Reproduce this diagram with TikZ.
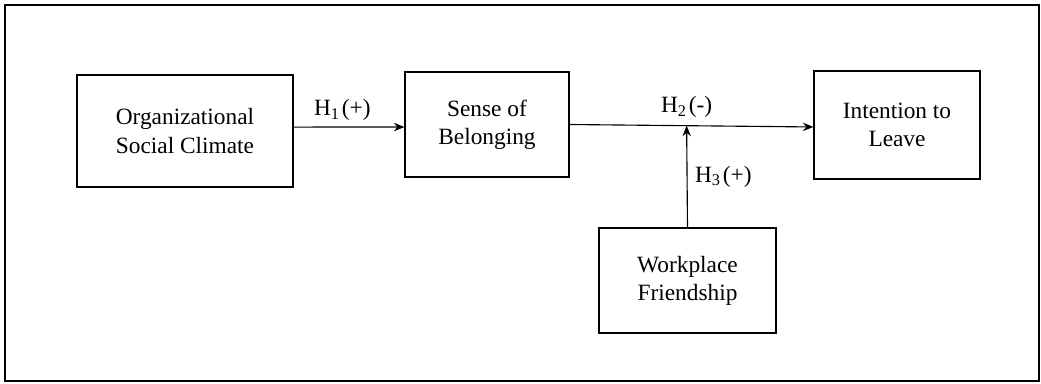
\documentclass[tikz,border=0pt]{standalone}
\usepackage{fontspec}
\setmainfont{Liberation Serif}
\usepackage{tikz}
\usetikzlibrary{arrows.meta}
\newcommand\hyp[2]{H\textsubscript{#1}\hspace{1.5pt}(#2)}

\begin{document}
\begin{tikzpicture}[x=0.025cm,y=-0.025cm,
  font=\fontsize{16.6}{20}\selectfont,
  box/.style={draw,line width=0.8pt,align=center,inner sep=0pt},
  arr/.style={line width=0.8pt,-{Stealth[length=7.5pt,width=6pt,inset=2.5pt]}}]
\useasboundingbox (0,0) rectangle (1041,383);
\draw[line width=2pt] (5,5) rectangle (1039,381);
\node[box,minimum width=216*0.025cm,minimum height=112*0.025cm] (climate) at (185,131) {Organizational\\Social Climate};
\node[box,minimum width=164*0.025cm,minimum height=105*0.025cm] (belong) at (487,124.5) {Sense of\\Belonging};
\node[box,minimum width=166*0.025cm,minimum height=108*0.025cm] (leave) at (897,125) {Intention to\\Leave};
\node[box,minimum width=177*0.025cm,minimum height=105*0.025cm] (friend) at (687.5,280.5) {Workplace\\Friendship};
\draw[arr] ([yshift=2.8pt]climate.east) -- node[above,pos=0.44,yshift=1pt] (h1) {\hyp{1}{+}} ([yshift=-1.8pt]belong.west);
\draw[arr] (belong.east) -- node[above,pos=0.48,yshift=2pt] (h2) {\hyp{2}{-}} ([yshift=-1.4pt]leave.west);
\path (belong.east) -- coordinate[pos=0.48] (meet) ([yshift=-1.4pt]leave.west);
\draw[arr] (friend.north) -- node[right,pos=0.5,xshift=2pt] (h3) {\hyp{3}{+}} (meet);
\end{tikzpicture}
\end{document}
